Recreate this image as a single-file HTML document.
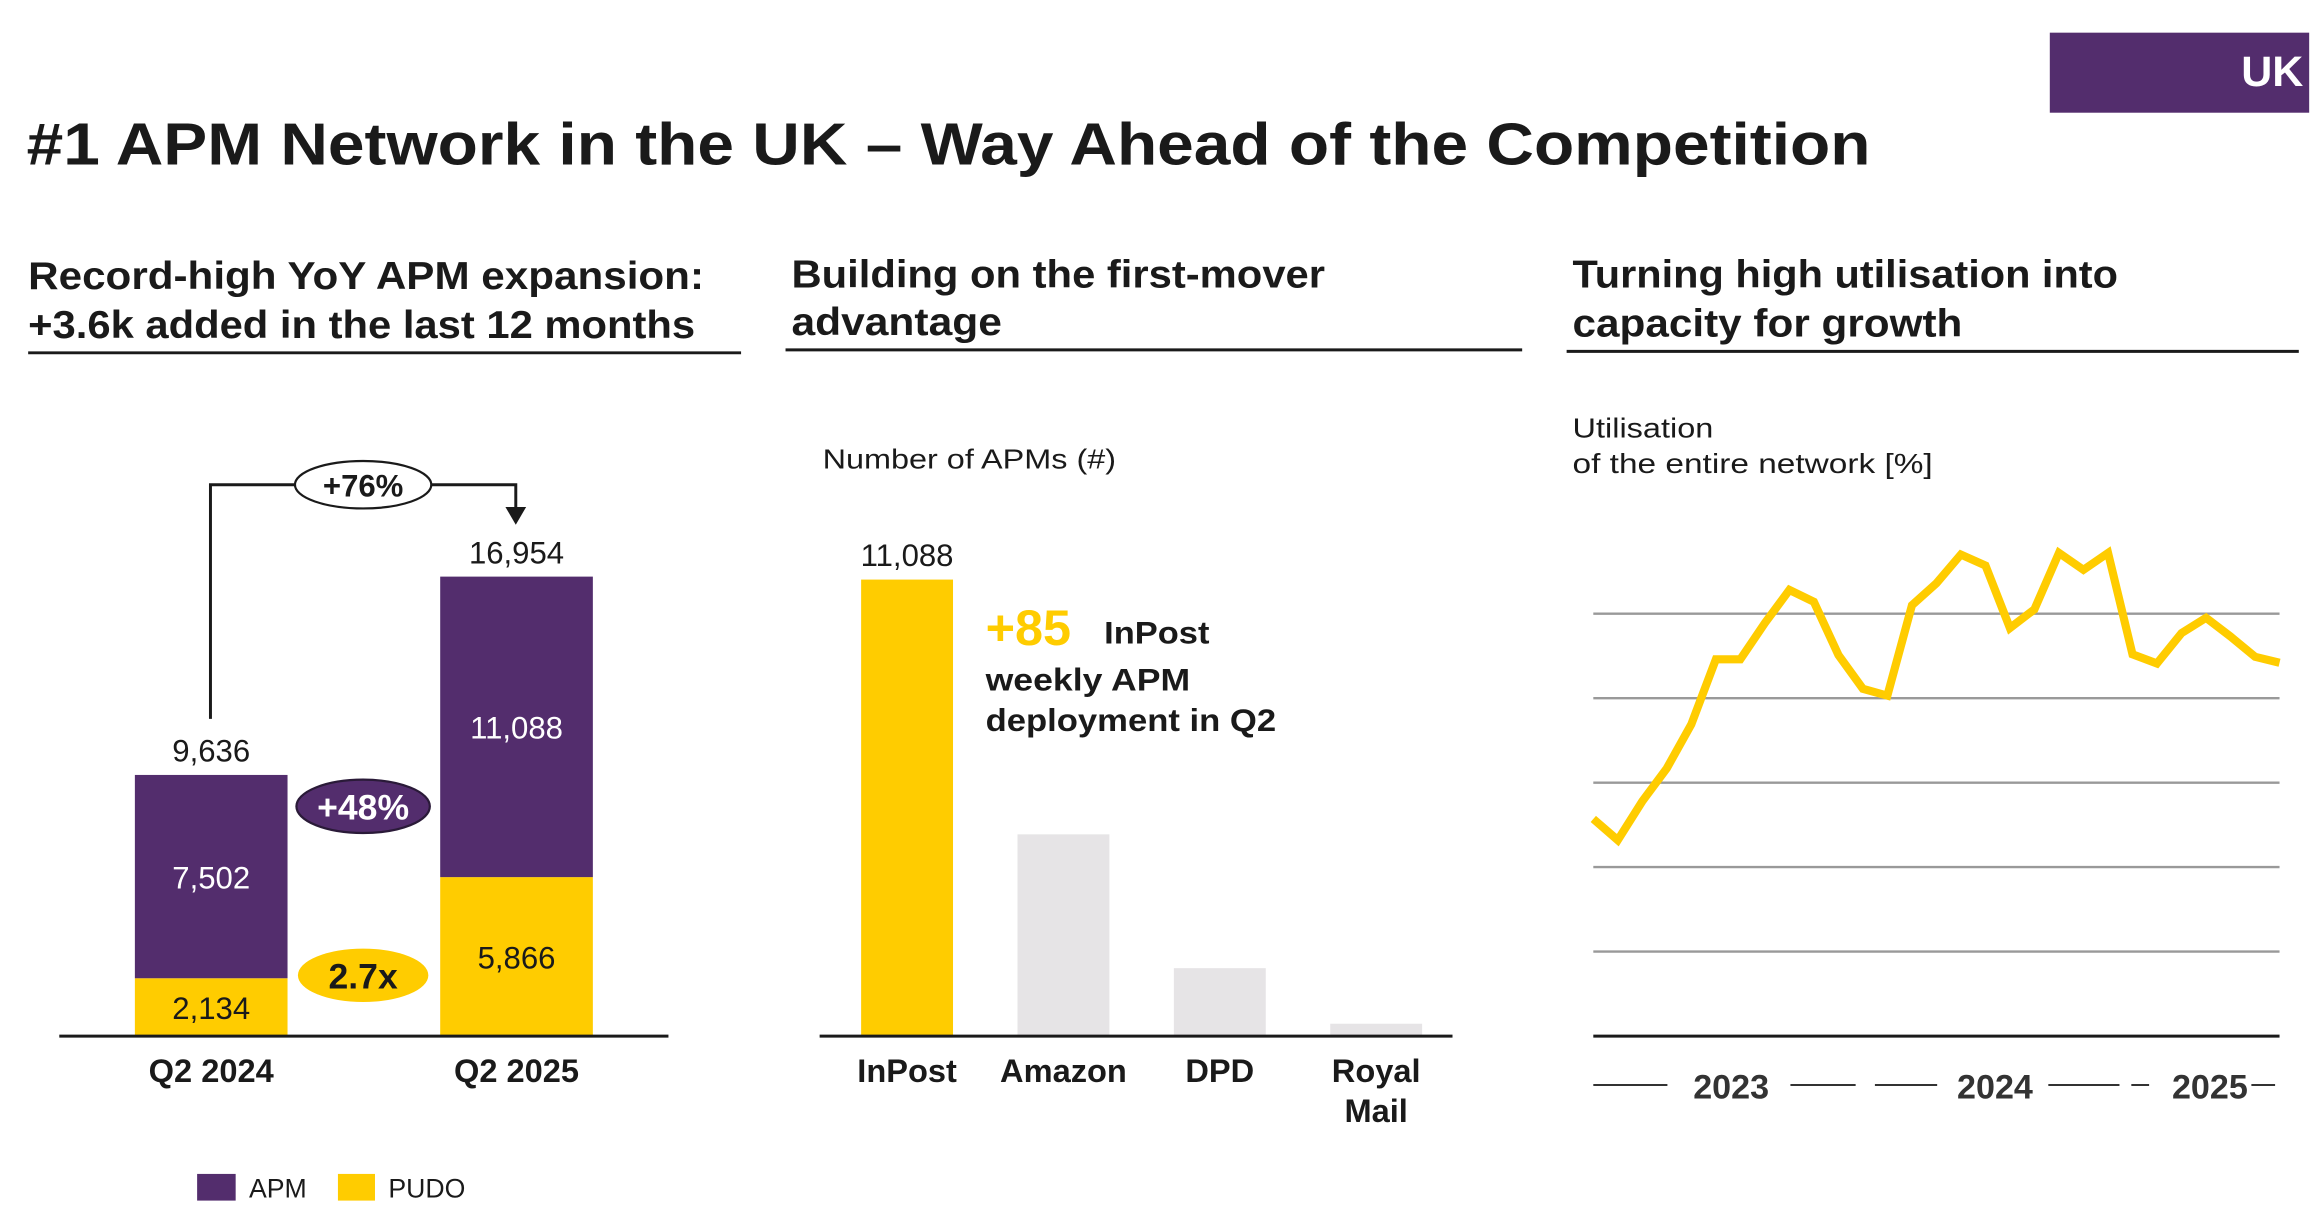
<!DOCTYPE html>
<html><head><meta charset="utf-8"><style>
html,body{margin:0;padding:0;background:#fff;}
svg{display:block;font-family:"Liberation Sans",sans-serif;}
</style></head><body>
<svg width="2324" height="1214" viewBox="0 0 1568 819" xmlns="http://www.w3.org/2000/svg">
<rect x="1383" y="22" width="175" height="54" fill="#532d6d"/>
<text x="1554" y="58" text-anchor="end" font-size="29" font-weight="bold" fill="#fff">UK</text>
<text x="18" y="111" font-size="40" font-weight="bold" fill="#1a1a1a" textLength="1244" lengthAdjust="spacingAndGlyphs">#1 APM Network in the UK – Way Ahead of the Competition</text>

<g font-size="26" font-weight="bold" fill="#1a1a1a">
<text x="19" y="195" textLength="456" lengthAdjust="spacingAndGlyphs">Record-high YoY APM expansion:</text>
<text x="19" y="228" textLength="450" lengthAdjust="spacingAndGlyphs">+3.6k added in the last 12 months</text>
<text x="534" y="194" textLength="360" lengthAdjust="spacingAndGlyphs">Building on the first-mover</text>
<text x="534" y="226" textLength="142" lengthAdjust="spacingAndGlyphs">advantage</text>
<text x="1061" y="194" textLength="368" lengthAdjust="spacingAndGlyphs">Turning high utilisation into</text>
<text x="1061" y="227" textLength="263" lengthAdjust="spacingAndGlyphs">capacity for growth</text>
</g>
<line x1="19" y1="238" x2="500" y2="238" stroke="#1a1a1a" stroke-width="2"/>
<line x1="530" y1="236" x2="1027" y2="236" stroke="#1a1a1a" stroke-width="2"/>
<line x1="1057" y1="237" x2="1551" y2="237" stroke="#1a1a1a" stroke-width="2"/>

<g id="c1"></g>
<g id="c2"></g>
<g id="c3"></g>

<path d="M142 485 V327 H348 V345" fill="none" stroke="#1a1a1a" stroke-width="2"/>
<path d="M341 342 L355 342 L348 354 Z" fill="#1a1a1a"/>
<ellipse cx="245" cy="327" rx="46" ry="16" fill="#fff" stroke="#1a1a1a" stroke-width="1.5"/>
<text x="245" y="335" text-anchor="middle" font-size="21" font-weight="bold" fill="#1a1a1a">+76%</text>
<ellipse cx="245" cy="544" rx="45" ry="18" fill="#532d6d" stroke="#2a1a38" stroke-width="1.5"/>
<text x="245" y="553" text-anchor="middle" font-size="24" font-weight="bold" fill="#fff">+48%</text>
<ellipse cx="245" cy="658" rx="44" ry="18" fill="#ffcc00"/>
<text x="245" y="667" text-anchor="middle" font-size="24" font-weight="bold" fill="#1a1a1a">2.7x</text>
<rect x="133" y="792" width="26" height="18" fill="#532d6d"/>
<text x="168" y="808" font-size="18" fill="#1a1a1a">APM</text>
<rect x="228" y="792" width="25" height="18" fill="#ffcc00"/>
<text x="262" y="808" font-size="18" fill="#1a1a1a">PUDO</text>

<text x="555" y="316" font-size="19" fill="#1a1a1a" textLength="198" lengthAdjust="spacingAndGlyphs">Number of APMs (#)</text>
<text x="665" y="435" font-size="34" font-weight="bold" fill="#ffcc00">+85</text>
<text x="745" y="434" font-size="21" font-weight="bold" fill="#1a1a1a" textLength="71" lengthAdjust="spacingAndGlyphs">InPost</text>
<text x="665" y="466" font-size="21" font-weight="bold" fill="#1a1a1a" textLength="138" lengthAdjust="spacingAndGlyphs">weekly APM</text>
<text x="665" y="493" font-size="21" font-weight="bold" fill="#1a1a1a" textLength="196" lengthAdjust="spacingAndGlyphs">deployment in Q2</text>

<text x="1061" y="295" font-size="19" fill="#1a1a1a" textLength="95" lengthAdjust="spacingAndGlyphs">Utilisation</text>
<text x="1061" y="319" font-size="19" fill="#1a1a1a" textLength="243" lengthAdjust="spacingAndGlyphs">of the entire network [%]</text>
</svg>
<script>
const c1Categories = ["Q2 2024", "Q2 2025"];
const c1Pudo = [2134, 5866];
const c1Apm = [7502, 11088];
const c1Totals = ["9,636", "16,954"];
const c1PudoLabels = ["2,134", "5,866"];
const c1ApmLabels = ["7,502", "11,088"];
const c2Categories = [["InPost"], ["Amazon"], ["DPD"], ["Royal", "Mail"]];
const c2Values = [11088, 4900, 1650, 300];
const c2ValueLabels = ["11,088", "", "", ""];
const c3Values = [25.7,23.2,27.8,31.7,36.9,44.6,44.6,48.9,52.8,51.4,45.1,41.1,40.3,51.0,53.6,57.0,55.7,48.3,50.5,57.2,55.2,57.2,45.2,44.1,47.7,49.5,47.3,44.9,44.2];
const c3GridValues = [10, 20, 30, 40, 50];
const c3YearLabels = ["2023", "2024", "2025"];

const NS = "http://www.w3.org/2000/svg";
function mk(parent, tag, attrs, text) {
  const e = document.createElementNS(NS, tag);
  for (const k in attrs) e.setAttribute(k, attrs[k]);
  if (text !== undefined) e.textContent = text;
  parent.appendChild(e);
  return e;
}

(function(){
  const g = document.getElementById('c1');
  const base = 699, k = 310 / 16954;
  const y = v => base - v * k;
  const xs = i => 91 + i * 206, w = 103;
  c1Categories.forEach((c, i) => {
    const p = mk(g, 'rect', {x: xs(i), y: y(c1Pudo[i]), width: w, height: base - y(c1Pudo[i]), fill: '#ffcc00'});
    
    
    const top = c1Pudo[i] + c1Apm[i];
    const a = mk(g, 'rect', {x: xs(i), y: y(top), width: w, height: y(c1Pudo[i]) - y(top), fill: '#532d6d'});
    
    
    const cx = xs(i) + w / 2;
    const t1 = mk(g, 'text', {x: cx, y: y(top) - 9, 'text-anchor': 'middle', 'font-size': 21, fill: '#1a1a1a'}, c1Totals[i]);
    
    
    const t2 = mk(g, 'text', {x: cx, y: (y(top) + y(c1Pudo[i])) / 2 + 8, 'text-anchor': 'middle', 'font-size': 21, fill: '#fff'}, c1ApmLabels[i]);
    
    
    const t3 = mk(g, 'text', {x: cx, y: (base + y(c1Pudo[i])) / 2 + 8, 'text-anchor': 'middle', 'font-size': 21, fill: '#1a1a1a'}, c1PudoLabels[i]);
    
    
    const t4 = mk(g, 'text', {x: cx, y: 730, 'text-anchor': 'middle', 'font-size': 22, 'font-weight': 'bold', fill: '#1a1a1a'}, c);
    
    
  });
  const l = mk(g, 'line', {x1: 40, y1: base, x2: 451, y2: base, stroke: '#1a1a1a', 'stroke-width': 2});
  
  
})();

(function(){
  const g = document.getElementById('c2');
  const base = 699, k = 308 / 11088;
  const y = v => base - v * k;
  const xs = i => 581 + i * 105.5, w = 62;
  c2Values.forEach((v, i) => {
    const r = mk(g, 'rect', {x: xs(i), y: y(v), width: w, height: base - y(v), fill: i === 0 ? '#ffcc00' : '#e6e4e6'});
    
    
    const cx = xs(i) + w / 2;
    if (c2ValueLabels[i]) {
      const t = mk(g, 'text', {x: cx, y: y(v) - 9, 'text-anchor': 'middle', 'font-size': 21, fill: '#1a1a1a'}, c2ValueLabels[i]);
      
      
    }
    c2Categories[i].forEach((line, j) => {
      const t = mk(g, 'text', {x: cx, y: 730 + j * 27, 'text-anchor': 'middle', 'font-size': 22, 'font-weight': 'bold', fill: '#1a1a1a'}, line);
      
      
    });
  });
  const l = mk(g, 'line', {x1: 553, y1: base, x2: 980, y2: base, stroke: '#1a1a1a', 'stroke-width': 2});
  
  
})();

(function(){
  const g = document.getElementById('c3');
  const base = 699, x0 = 1075, x1 = 1538;
  const y = v => base - v * 5.7;
  const x = i => x0 + i * (x1 - x0) / (c3Values.length - 1);
  c3GridValues.forEach((v, i) => {
    const l = mk(g, 'line', {x1: x0, y1: y(v), x2: x1, y2: y(v), stroke: '#999', 'stroke-width': 1.6});
    
    
  });
  const b = mk(g, 'line', {x1: x0, y1: base, x2: x1, y2: base, stroke: '#1a1a1a', 'stroke-width': 2});
  
  
  const pts = c3Values.map((v, i) => x(i).toFixed(1) + ',' + y(v).toFixed(1)).join(' ');
  const p = mk(g, 'polyline', {points: pts, fill: 'none', stroke: '#ffcc00', 'stroke-width': 5.5, 'stroke-linejoin': 'miter'});
  
  
  const segs = [[1075,1125],[1208,1252],[1265,1307],[1382,1430],[1438,1450],[1519,1535]];
  segs.forEach((s, i) => {
    const l = mk(g, 'line', {x1: s[0], y1: 732, x2: s[1], y2: 732, stroke: '#333', 'stroke-width': 1.3});
    
    
  });
  const yx = [1168, 1346, 1491];
  c3YearLabels.forEach((t, i) => {
    const e = mk(g, 'text', {x: yx[i], y: 741, 'text-anchor': 'middle', 'font-size': 23, 'font-weight': 'bold', fill: '#333'}, t);
    
    
  });
})();
</script>
</body></html>
